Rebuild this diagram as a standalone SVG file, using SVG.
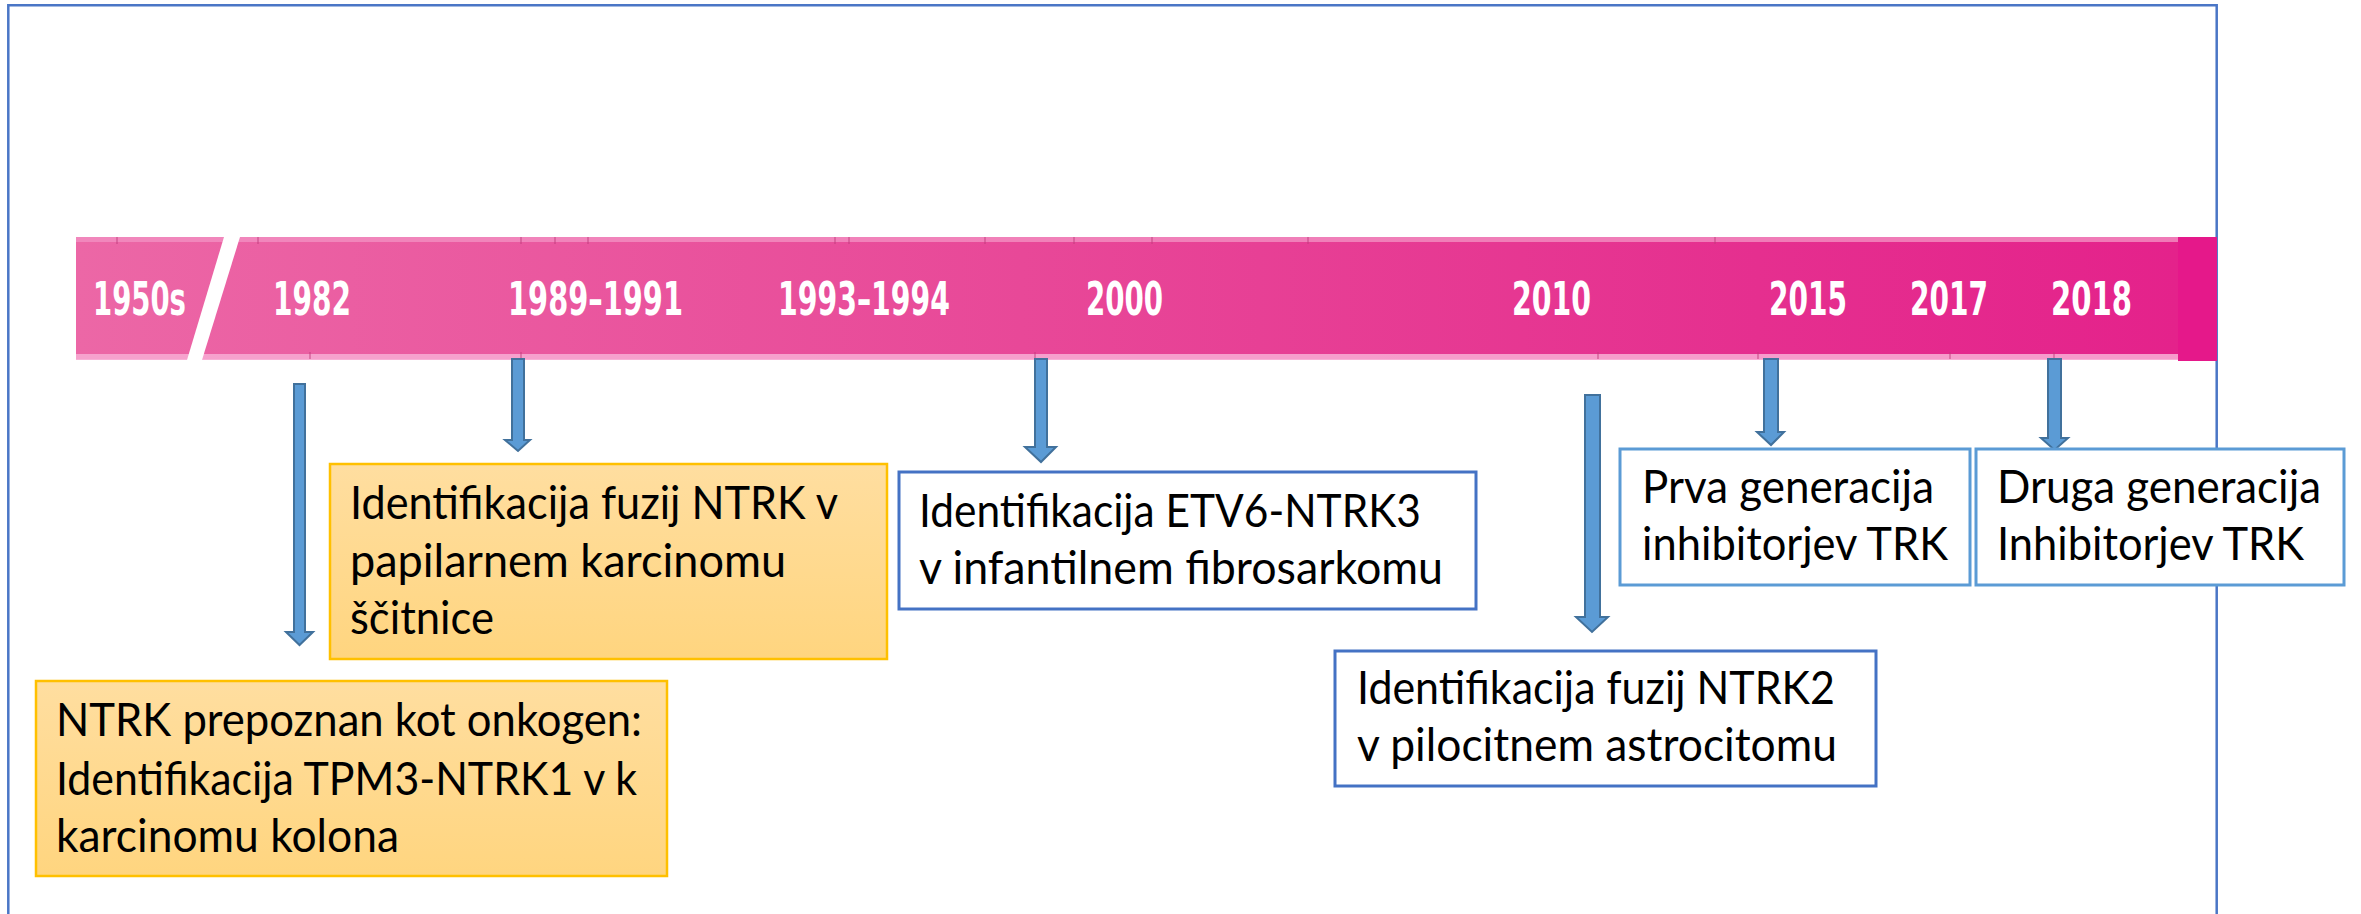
<svg xmlns="http://www.w3.org/2000/svg" width="2361" height="914" viewBox="0 0 2361 914">
  <defs>
    <linearGradient id="barGrad" x1="76" y1="0" x2="2178" y2="0" gradientUnits="userSpaceOnUse">
      <stop offset="0" stop-color="#EC67A6"/>
      <stop offset="0.45" stop-color="#E84898"/>
      <stop offset="0.8" stop-color="#E52F8F"/>
      <stop offset="1" stop-color="#E4228B"/>
    </linearGradient>
    <linearGradient id="orangeGrad" x1="0" y1="0" x2="0" y2="1">
      <stop offset="0" stop-color="#FFDEA0"/>
      <stop offset="1" stop-color="#FFD57F"/>
    </linearGradient>
  </defs>
  <style>
    .frame { fill: none; stroke: #4A76C6; stroke-width: 2.5; }
    .year { font-family: "DejaVu Sans", Verdana, sans-serif; font-weight: bold; font-size: 46px; fill: #FFFFFF; }
    .tick { stroke: #C23C7C; stroke-width: 1.5; opacity: 0.6; }
    .orange { fill: url(#orangeGrad); stroke: #FFC000; stroke-width: 2.5; }
    .blueA { fill: #FFFFFF; stroke: #4472C4; stroke-width: 3; }
    .blueB { fill: #FFFFFF; stroke: #5B9BD5; stroke-width: 3; }
    .lbl { font-family: Lato, "Open Sans", "Liberation Sans", sans-serif; font-size: 46px; fill: #000000; }
    .arrow { fill: #5B9BD5; stroke: #41719C; stroke-width: 2; }
  </style>

  <rect width="2361" height="914" fill="#FFFFFF"/>

  <!-- outer frame (top, left, right) -->
  <path class="frame" d="M8.3,930 L8.3,5.3 L2216.7,5.3 L2216.7,930"/>

  <!-- timeline bar -->
  <g id="timeline">
    <rect x="76" y="237" width="2102" height="122" fill="url(#barGrad)"/>
    <rect x="76" y="237" width="2102" height="5" fill="#F290C2" opacity="0.8"/>
    <rect x="76" y="354" width="2102" height="6" fill="#F7A9D1" opacity="0.9"/>
    <rect x="2178" y="237" width="39" height="124" fill="#E5188A"/>
    <polygon points="224,237 240,237 202,360 187,360" fill="#FFFFFF"/>
    <g>
      <line class="tick" x1="117" y1="237" x2="117" y2="244"/>
      <line class="tick" x1="258" y1="237" x2="258" y2="244"/>
      <line class="tick" x1="521" y1="237" x2="521" y2="244"/>
      <line class="tick" x1="555" y1="237" x2="555" y2="244"/>
      <line class="tick" x1="588" y1="237" x2="588" y2="244"/>
      <line class="tick" x1="835" y1="237" x2="835" y2="244"/>
      <line class="tick" x1="849" y1="237" x2="849" y2="244"/>
      <line class="tick" x1="985" y1="237" x2="985" y2="244"/>
      <line class="tick" x1="1074" y1="237" x2="1074" y2="244"/>
      <line class="tick" x1="1152" y1="237" x2="1152" y2="244"/>
      <line class="tick" x1="1308" y1="237" x2="1308" y2="244"/>
      <line class="tick" x1="1715" y1="237" x2="1715" y2="244"/>
      <line class="tick" x1="310" y1="352" x2="310" y2="359"/>
      <line class="tick" x1="521" y1="352" x2="521" y2="359"/>
      <line class="tick" x1="1035" y1="352" x2="1035" y2="359"/>
      <line class="tick" x1="1598" y1="352" x2="1598" y2="359"/>
      <line class="tick" x1="1758" y1="352" x2="1758" y2="359"/>
      <line class="tick" x1="1950" y1="352" x2="1950" y2="359"/>
      <line class="tick" x1="2054" y1="352" x2="2054" y2="359"/>
    </g>
    <text class="year" x="93" y="315" textLength="93" lengthAdjust="spacingAndGlyphs">1950s</text>
    <text class="year" x="273" y="315" textLength="78" lengthAdjust="spacingAndGlyphs">1982</text>
    <text class="year" x="508" y="315" textLength="175" lengthAdjust="spacingAndGlyphs">1989–1991</text>
    <text class="year" x="778" y="315" textLength="172" lengthAdjust="spacingAndGlyphs">1993–1994</text>
    <text class="year" x="1086" y="315" textLength="77" lengthAdjust="spacingAndGlyphs">2000</text>
    <text class="year" x="1512" y="315" textLength="79" lengthAdjust="spacingAndGlyphs">2010</text>
    <text class="year" x="1769" y="315" textLength="78" lengthAdjust="spacingAndGlyphs">2015</text>
    <text class="year" x="1910" y="315" textLength="78" lengthAdjust="spacingAndGlyphs">2017</text>
    <text class="year" x="2051" y="315" textLength="81" lengthAdjust="spacingAndGlyphs">2018</text>
  </g>

  <!-- connectors -->
  <g id="connectors">
    <polygon class="arrow" points="294,384 305,384 305,632 313,632 299.5,645 286,632 294,632"/>
    <polygon class="arrow" points="512,359 524,359 524,440 530,440 518,451 505,440 512,440"/>
    <polygon class="arrow" points="1035,359 1047,359 1047,447 1056,447 1041,462 1025,447 1035,447"/>
    <polygon class="arrow" points="1585,395 1600,395 1600,617 1608,617 1592,632 1576,617 1585,617"/>
    <polygon class="arrow" points="1764,359 1778,359 1778,432 1784,432 1771,445 1757,432 1764,432"/>
    <polygon class="arrow" points="2048,359 2061,359 2061,438 2068,438 2054.5,450 2041,438 2048,438"/>
  </g>

  <!-- nodes -->
  <g id="node-1989">
    <rect class="orange" x="330" y="464" width="557" height="195"/>
    <text class="lbl" x="350" y="519" textLength="488" lengthAdjust="spacingAndGlyphs">Identifikacija fuzij NTRK v</text>
    <text class="lbl" x="350" y="577" textLength="436" lengthAdjust="spacingAndGlyphs">papilarnem karcinomu</text>
    <text class="lbl" x="350" y="634" textLength="144" lengthAdjust="spacingAndGlyphs">ščitnice</text>
  </g>

  <g id="node-1982">
    <rect class="orange" x="36" y="681" width="631" height="195"/>
    <text class="lbl" x="56" y="736" textLength="586" lengthAdjust="spacingAndGlyphs">NTRK prepoznan kot onkogen:</text>
    <text class="lbl" x="56" y="795" textLength="581" lengthAdjust="spacingAndGlyphs">Identifikacija TPM3-NTRK1 v k</text>
    <text class="lbl" x="56" y="852" textLength="343" lengthAdjust="spacingAndGlyphs">karcinomu kolona</text>
  </g>

  <g id="node-2000">
    <rect class="blueA" x="899" y="472" width="577" height="137"/>
    <text class="lbl" x="919" y="527" textLength="502" lengthAdjust="spacingAndGlyphs">Identifikacija ETV6-NTRK3</text>
    <text class="lbl" x="919" y="584" textLength="524" lengthAdjust="spacingAndGlyphs">v infantilnem fibrosarkomu</text>
  </g>

  <g id="node-2010">
    <rect class="blueA" x="1335" y="651" width="541" height="135"/>
    <text class="lbl" x="1357" y="704" textLength="478" lengthAdjust="spacingAndGlyphs">Identifikacija fuzij NTRK2</text>
    <text class="lbl" x="1357" y="761" textLength="480" lengthAdjust="spacingAndGlyphs">v pilocitnem astrocitomu</text>
  </g>

  <g id="node-2015">
    <rect class="blueB" x="1620" y="449" width="350" height="136"/>
    <text class="lbl" x="1642" y="503" textLength="292" lengthAdjust="spacingAndGlyphs">Prva generacija</text>
    <text class="lbl" x="1642" y="560" textLength="306" lengthAdjust="spacingAndGlyphs">inhibitorjev TRK</text>
  </g>

  <g id="node-2018">
    <rect class="blueB" x="1976" y="449" width="368" height="136"/>
    <text class="lbl" x="1997" y="503" textLength="324" lengthAdjust="spacingAndGlyphs">Druga generacija</text>
    <text class="lbl" x="1997" y="560" textLength="307" lengthAdjust="spacingAndGlyphs">Inhibitorjev TRK</text>
  </g>
</svg>
